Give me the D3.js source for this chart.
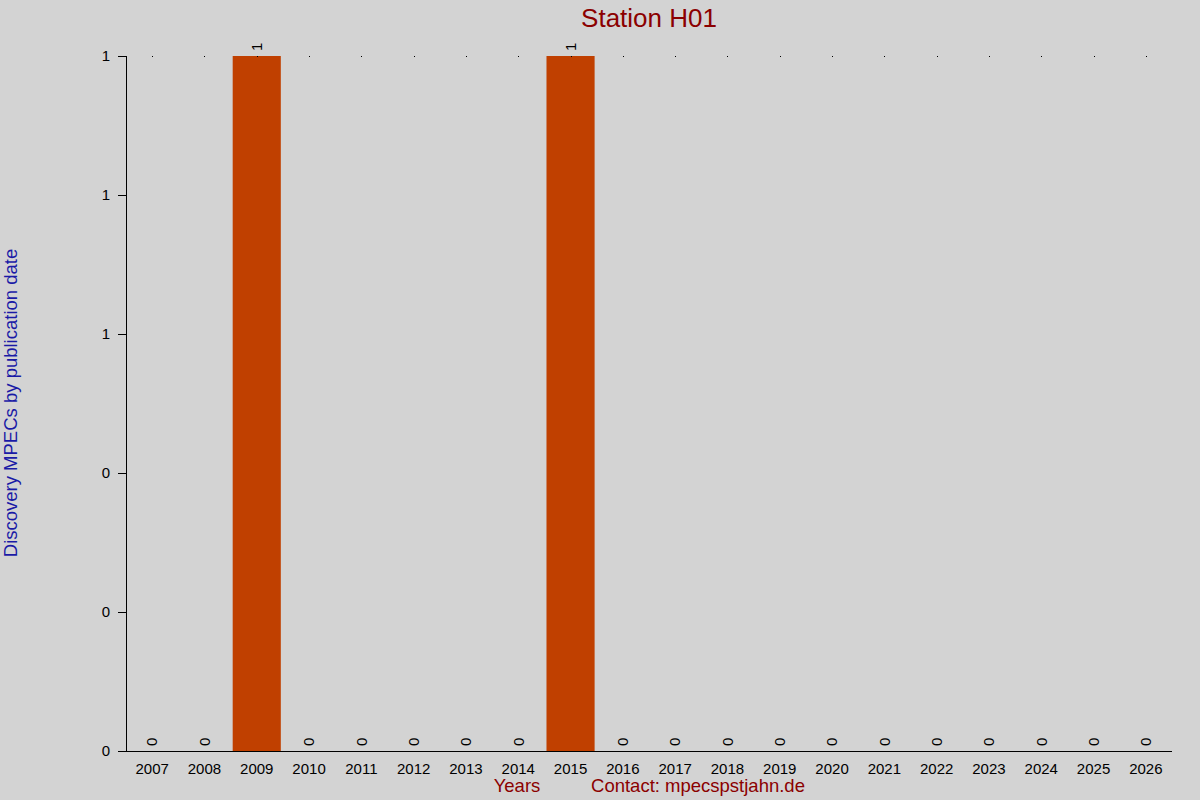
<!DOCTYPE html>
<html>
<head>
<meta charset="utf-8">
<script src="https://cdn.jsdelivr.net/npm/d3@7"></script>
<style>
  body { margin: 0; background: #d3d3d3; }
  text { font-family: "Liberation Sans", Arial, sans-serif; }
</style>
</head>
<body>
<div id="chart"></div>
<script>
// data
var years = ["2007", "2008", "2009", "2010", "2011", "2012", "2013", "2014", "2015", "2016",
             "2017", "2018", "2019", "2020", "2021", "2022", "2023", "2024", "2025", "2026"];
var counts = [0, 0, 1, 0, 0, 0, 0, 0, 1, 0, 0, 0, 0, 0, 0, 0, 0, 0, 0, 0];
var yTicks = [0, 0.2, 0.4, 0.6, 0.8, 1];

var W = 1200, H = 800;
var plotL = 126, plotR = 1172, plotT = 56, plotB = 751;

var svg = d3.select('#chart')
    .append("svg")
    .attr("width", W)
    .attr("height", H)
    .style("display", "block");

svg.append("rect").attr("width", W).attr("height", H).attr("fill", "#d3d3d3");

var x = d3.scaleBand()
    .domain(years)
    .range([plotL, plotR])
    .paddingInner(0.08)
    .paddingOuter(0.04);

var y = d3.scaleLinear()
    .domain([0, 1])
    .range([plotB, plotT]);

// bars
svg.selectAll(".bar")
    .data(counts)
    .enter().append("rect")
    .attr("class", "bar")
    .attr("x", function(d, i) { return x(years[i]); })
    .attr("width", x.bandwidth())
    .attr("y", function(d) { return y(d); })
    .attr("height", function(d) { return y(0) - y(d); })
    .attr("fill", "#c04000");

// tiny dots on top line
svg.selectAll(".dot")
    .data(years)
    .enter().append("rect")
    .attr("x", function(d) { return Math.round(x(d) + x.bandwidth() / 2); })
    .attr("y", plotT)
    .attr("width", 1)
    .attr("height", 1)
    .attr("fill", "#000");

// value labels (rotated)
svg.selectAll(".val")
    .data(counts)
    .enter().append("text")
    .attr("transform", function(d, i) {
        return "translate(" + (x(years[i]) + x.bandwidth() / 2) + "," + (y(d) - 5) + ") rotate(-90)";
    })
    .attr("dy", "0.35em")
    .attr("font-size", 15)
    .attr("fill", "#000")
    .text(function(d) { return d; });

// y axis
var yAxis = d3.axisLeft(y)
    .tickValues(yTicks)
    .tickFormat(d3.format(".0f"))
    .tickSize(8)
    .tickPadding(8);
var gy = svg.append("g")
    .attr("transform", "translate(" + plotL + ",0)")
    .call(yAxis);
gy.select(".domain").attr("d", "M0.5," + plotT + "V" + plotB).attr("stroke", "#000");
gy.selectAll("text").attr("font-size", 15).attr("font-family", "Liberation Sans, Arial, sans-serif").attr("fill", "#000");

// x axis
var xAxis = d3.axisBottom(x).tickSize(0).tickPadding(12);
var gx = svg.append("g")
    .attr("transform", "translate(0," + plotB + ")")
    .call(xAxis);
gx.select(".domain").attr("d", "M" + (plotL - 8) + ",0.5H" + plotR).attr("stroke", "#000");
gx.selectAll("text").attr("font-size", 15).attr("font-family", "Liberation Sans, Arial, sans-serif").attr("fill", "#000");

// title
svg.append("text")
    .attr("x", 649)
    .attr("y", 27)
    .attr("text-anchor", "middle")
    .attr("font-size", 26)
    .attr("fill", "#8b0000")
    .text("Station H01");

// axis labels
svg.append("text")
    .attr("transform", "translate(17,403) rotate(-90)")
    .attr("text-anchor", "middle")
    .attr("font-size", 18.5)
    .attr("fill", "#1a1aa6")
    .text("Discovery MPECs by publication date");

svg.append("text")
    .attr("x", 517)
    .attr("y", 792)
    .attr("text-anchor", "middle")
    .attr("font-size", 18.5)
    .attr("fill", "#8b0000")
    .text("Years");

svg.append("text")
    .attr("x", 698)
    .attr("y", 792)
    .attr("text-anchor", "middle")
    .attr("font-size", 18.5)
    .attr("fill", "#8b0000")
    .text("Contact: mpecspstjahn.de");
</script>
</body>
</html>
